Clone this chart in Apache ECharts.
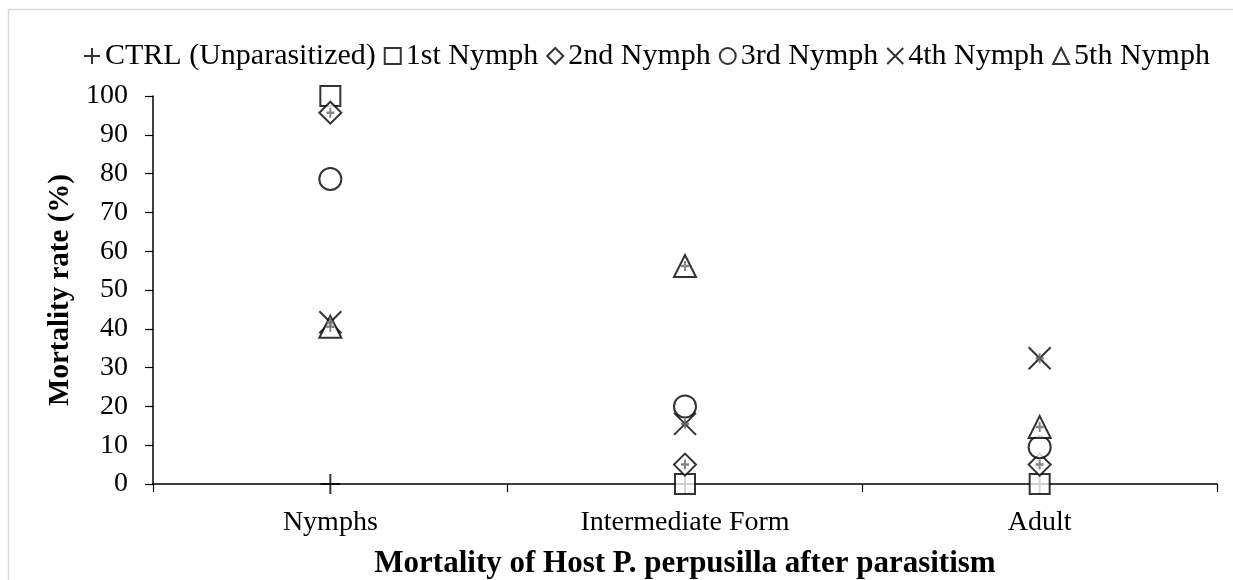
<!DOCTYPE html>
<html>
<head>
<meta charset="utf-8">
<script src="https://cdn.jsdelivr.net/npm/echarts@6/dist/echarts.min.js"></script>
<style>
  html, body { margin: 0; padding: 0; background: #fff; }
  #chart { width: 1233px; height: 580px; }
</style>
</head>
<body>
<div id="chart"></div>
<script>
var categories = ['Nymphs', 'Intermediate Form', 'Adult'];
var seriesNames = ['CTRL (Unparasitized)', '1st Nymph', '2nd Nymph', '3rd Nymph', '4th Nymph', '5th Nymph'];
var ctrl = [0, 0, 0];
var nymph1 = [100, 0, 0];
var nymph2 = [95.7, 5, 5];
var nymph3 = [78.6, 20, 9.5];
var nymph4 = [41.7, 15.5, 32.4];
var nymph5 = [40.5, 56.2, 14.7];
var yTicks = [0, 10, 20, 30, 40, 50, 60, 70, 80, 90, 100];

var FONT = '"Liberation Serif", "Times New Roman", serif';
var plusPath = 'path://M0,10 L20,10 M10,0 L10,20';
var crossPath = 'path://M0,0 L20,20 M20,0 L0,20';

function mk(name, data, symbol, size) {
    return {
        name: name,
        type: 'scatter',
        symbol: symbol,
        symbolSize: size,
        data: data,
        itemStyle: {
            color: '#fff',
            borderColor: '#000',
            borderWidth: 2
        },
        emphasis: {disabled: true},
        z: 3
    };
}

// small grey marks drawn inside some markers
function greyMark(data) {
    return {
        name: 'sd',
        type: 'scatter',
        symbol: plusPath,
        symbolSize: [8, 10],
        data: data,
        itemStyle: {color: 'none', borderColor: '#666', borderWidth: 2.2},
        emphasis: {disabled: true},
        silent: true,
        z: 4
    };
}

var myChart = echarts.init(document.getElementById('chart'));
var option = {
    animation: false,
    backgroundColor: '#fff',
    textStyle: {fontFamily: FONT},
    graphic: [
        {type: 'line', shape: {x1: 8.5, y1: 9, x2: 8.5, y2: 580}, style: {stroke: '#d9d9d9', lineWidth: 1.5}},
        {type: 'line', shape: {x1: 8, y1: 9.5, x2: 1233, y2: 9.5}, style: {stroke: '#d9d9d9', lineWidth: 1.5}}
    ],
    legend: {
        data: seriesNames,
        top: 36,
        left: 78,
        itemWidth: 16,
        itemHeight: 16,
        itemGap: 8,
        textStyle: {fontFamily: FONT, fontSize: 30, color: '#000'}
    },
    grid: {left: 153, right: 16, top: 96, bottom: 96, outerBoundsMode: 'none'},
    xAxis: {
        type: 'category',
        data: categories,
        name: 'Mortality of Host P. perpusilla after parasitism',
        nameLocation: 'middle',
        nameGap: 64,
        nameTextStyle: {fontFamily: FONT, fontSize: 31, fontWeight: 'bold', color: '#000'},
        axisLine: {lineStyle: {color: '#000', width: 1.5}},
        axisTick: {show: true, length: 8, lineStyle: {color: '#000', width: 1.2}},
        axisLabel: {fontFamily: FONT, fontSize: 28, color: '#000', margin: 25},
        splitLine: {show: false}
    },
    yAxis: {
        type: 'value',
        min: 0,
        max: 100,
        interval: 10,
        name: 'Mortality rate (%)',
        nameLocation: 'middle',
        nameGap: 77,
        nameTextStyle: {fontFamily: FONT, fontSize: 29, fontWeight: 'bold', color: '#000'},
        axisLine: {show: true, lineStyle: {color: '#000', width: 1.5}},
        axisTick: {show: true, length: 8, lineStyle: {color: '#000', width: 1.2}},
        axisLabel: {fontFamily: FONT, fontSize: 28, color: '#000', margin: 25,
            formatter: function (v) { return yTicks.indexOf(v) >= 0 ? String(v) : ''; }},
        splitLine: {show: false}
    },
    series: [
        mk(seriesNames[0], ctrl, plusPath, 20),
        mk(seriesNames[1], nymph1, 'rect', 20),
        mk(seriesNames[2], nymph2, 'diamond', 22),
        mk(seriesNames[3], nymph3, 'circle', 22),
        mk(seriesNames[4], nymph4, crossPath, 22),
        mk(seriesNames[5], nymph5, 'triangle', 22),
        greyMark(nymph2),
        greyMark(nymph4),
        greyMark(nymph5)
    ]
};
myChart.setOption(option);
</script>
</body>
</html>
